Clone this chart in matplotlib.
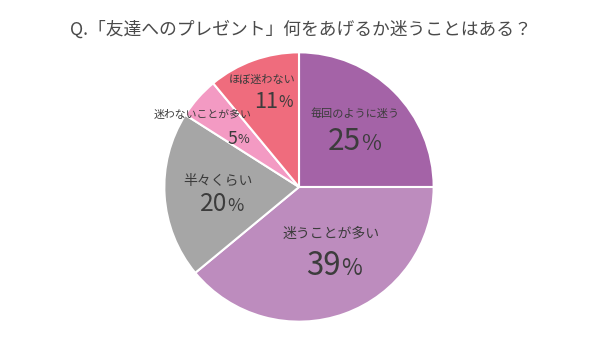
import matplotlib
matplotlib.use("Agg")
import matplotlib.pyplot as plt

plt.rcParams['font.family'] = ['Noto Sans CJK JP', 'DejaVu Sans']

title = "Q.「友達へのプレゼント」何をあげるか迷うことはある？"
labels = ["毎回のように迷う", "迷うことが多い", "半々くらい", "迷わないことが多い", "ほぼ迷わない"]
values = [25, 39, 20, 5, 11]
colors = ["#A463A7", "#BD8CBE", "#A6A6A6", "#F39AC3", "#EF6C7D"]

# label / number placement (pie radius = 1)
label_pos = [(0.419, 0.544), (0.235, -0.346), (-0.603, 0.044), (-0.713, 0.537), (-0.272, 0.794)]
label_size = [8, 10, 10, 7.8, 8]
num_pos = [(0.338, 0.338), (0.184, -0.588), (-0.632, -0.125), (-0.493, 0.36), (-0.243, 0.632)]
num_size = [21.5, 22.5, 17.7, 12.8, 15.7]

txt = "#3C3C3C"

fig = plt.figure(figsize=(6.02, 3.61), dpi=100)
ax = fig.add_axes([(299 - 136) / 602, (361 - 323) / 361, 272 / 602, 272 / 361])
ax.pie(values, colors=colors, startangle=90, counterclock=False, radius=1,
       wedgeprops=dict(edgecolor="white", linewidth=1.5))
ax.set_xlim(-1.01, 1.01)
ax.set_ylim(-1.01, 1.01)
ax.axis("off")

for lab, (lx, ly), ls, v, (nx, ny), ns in zip(labels, label_pos, label_size, values, num_pos, num_size):
    ax.text(lx, ly, lab, ha="center", va="center", fontsize=ls, color=txt)
    t = ax.text(nx, ny, str(v), ha="center", va="center", fontsize=ns, color=txt)
    ax.annotate("%", xy=(1, 0.08), xycoords=t, ha="left", va="bottom",
                fontsize=ns * 0.72, color=txt)

fig.text(301 / 602, 1 - 30 / 361, title, ha="center", va="center",
         fontsize=12.8, color="#4A4A4A")

fig.savefig("out.png", dpi=100)
